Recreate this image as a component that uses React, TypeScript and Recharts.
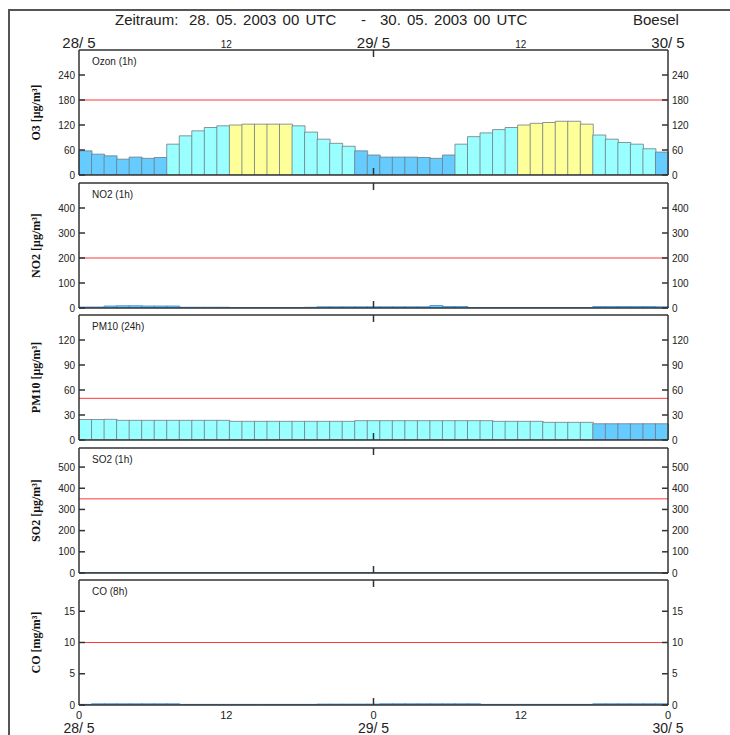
import React from 'react';
import { BarChart, Bar, XAxis, YAxis, ReferenceLine, Cell } from 'recharts';

// hour index of each bar (47 hourly bars between 28/5 00 UTC and 30/5 00 UTC)
const hours = [1,2,3,4,5,6,7,8,9,10,11,12,13,14,15,16,17,18,19,20,21,22,23,24,25,26,27,28,29,30,31,32,33,34,35,36,37,38,39,40,41,42,43,44,45,46,47];

const ozone = [58,50,46,38,43,40,42,74,94,106,114,118,120,122,122,122,122,118,103,86,76,69,58,48,43,43,43,42,40,48,74,92,101,109,114,120,124,126,129,129,122,96,86,78,74,63,55];
const no2 = [4,4,8,9,9,8,8,8,3,3,3,3,2,2,2,2,2,2,3,5,5,5,5,5,5,5,5,5,10,6,6,2,2,2,2,2,2,2,2,2,2,6,6,6,6,6,5];
const pm10 = [24.6,24.6,24.8,23.6,23.6,23.6,23.6,23.6,23.6,23.6,23.6,23.6,22.4,22.4,22.4,22.4,22.4,22.4,22.4,22.4,22.4,22.4,23.2,23.2,23.2,23.2,23.2,23.2,23.2,23.2,23.2,23.2,23.2,22.4,22.4,22.4,22.4,21.2,21.2,21.2,21.2,19.5,19.5,19.5,19.5,19.5,19.5];
const so2 = [2,2,2,2,2,2,2,2,2,2,2,2,2,2,2,2,2,2,2,2,2,2,2,2,2,2,2,2,2,2,2,2,2,2,2,2,2,2,2,2,2,2,2,2,2,2,2];
const co = [0.1,0.2,0.2,0.2,0.2,0.2,0.2,0.2,0.1,0.1,0.1,0.1,0.1,0.1,0.1,0.1,0.1,0.1,0.1,0.15,0.15,0.15,0.15,0.15,0.2,0.2,0.2,0.2,0.2,0.2,0.2,0.2,0.1,0.1,0.1,0.1,0.1,0.1,0.1,0.1,0.1,0.2,0.2,0.2,0.2,0.2,0.2];

const dayTicks = [0, 12, 24, 36, 48];
const hourTickLabels = ['0', '12', '0', '12', '0'];
const dateTickLabels = ['28/ 5', '', '29/ 5', '', '30/ 5'];
const topTickLabels = ['28/ 5', '12', '29/ 5', '12', '30/ 5'];

const o3Ticks = [0, 60, 120, 180, 240];
const no2Ticks = [0, 100, 200, 300, 400];
const pm10Ticks = [0, 30, 60, 90, 120];
const so2Ticks = [0, 100, 200, 300, 400, 500];
const coTicks = [0, 5, 10, 15];

const classColors = ['#66ccff', '#99ffff', '#ffff99'];

const panels = [
  { name: 'Ozon (1h)', yLabel: 'O3 [\u03BCg/m\u00B3]', values: ozone, max: 300, ticks: o3Ticks, limit: 180, thresholds: [60, 120], stroke: '#6f7b83' },
  { name: 'NO2 (1h)', yLabel: 'NO2 [\u03BCg/m\u00B3]', values: no2, max: 500, ticks: no2Ticks, limit: 200, thresholds: [] as number[], stroke: '#3a8ad6' },
  { name: 'PM10 (24h)', yLabel: 'PM10 [\u03BCg/m\u00B3]', values: pm10, max: 150, ticks: pm10Ticks, limit: 50, thresholds: [20, 50], stroke: '#6f7b83' },
  { name: 'SO2 (1h)', yLabel: 'SO2 [\u03BCg/m\u00B3]', values: so2, max: 590, ticks: so2Ticks, limit: 350, thresholds: [] as number[], stroke: '#3a8ad6' },
  { name: 'CO (8h)', yLabel: 'CO [mg/m\u00B3]', values: co, max: 20, ticks: coTicks, limit: 10, thresholds: [] as number[], stroke: '#3a8ad6' },
];

const panelTops = [50, 183, 315, 448, 580];
const PLOT_H = 125;
const W = 730;
const AXIS_W = 50;
const SANS = '"Liberation Sans", Arimo, Arial, sans-serif';
const SERIF = '"Liberation Serif", "DejaVu Serif", serif';
const LINE = '#333';

const LeftTick = (p: any) => {
  const { x, y, payload } = p;
  return (
    <g>
      <line x1={x} x2={x + 6} y1={y} y2={y} stroke={LINE} strokeWidth={1.5} />
      <text x={x - 4} y={y} textAnchor="end" dominantBaseline="central" fontSize={10} fontFamily={SANS} fill="#222">{payload.value}</text>
    </g>
  );
};

const RightTick = (p: any) => {
  const { x, y, payload } = p;
  return (
    <g>
      <line x1={x - 6} x2={x} y1={y} y2={y} stroke={LINE} strokeWidth={1.5} />
      <text x={x + 4} y={y} textAnchor="start" dominantBaseline="central" fontSize={10} fontFamily={SANS} fill="#222">{payload.value}</text>
    </g>
  );
};

const makeTopTick = (withLabels: boolean) => (p: any) => {
  const { x, y, payload, index } = p;
  const mid = payload.value === 24;
  const lbl = topTickLabels[index];
  const big = lbl.indexOf('/') >= 0;
  return (
    <g>
      {mid && <line x1={x} x2={x} y1={y} y2={y + 7} stroke={LINE} strokeWidth={1.5} />}
      {withLabels && (
        <text x={x} y={y - 2} textAnchor="middle" fontSize={big ? 15 : 10} fontFamily={SANS} fill="#222">{lbl}</text>
      )}
    </g>
  );
};

const makeBottomTick = (withLabels: boolean) => (p: any) => {
  const { x, y, payload, index } = p;
  const mid = payload.value === 24;
  return (
    <g>
      {mid && <line x1={x} x2={x} y1={y} y2={y - 7} stroke={LINE} strokeWidth={1.5} />}
      {withLabels && (
        <g>
          <text x={x} y={y + 10} textAnchor="middle" dominantBaseline="central" fontSize={11} fontFamily={SANS} fill="#222">{hourTickLabels[index]}</text>
          <text x={x} y={y + 28} textAnchor="middle" fontSize={14} fontFamily={SANS} fill="#222">{dateTickLabels[index]}</text>
        </g>
      )}
    </g>
  );
};

const YLabelContent = (p: any) => {
  const { viewBox, value } = p;
  if (!viewBox) return null;
  const cx = viewBox.x + 7;
  const cy = viewBox.y + viewBox.height / 2;
  return (
    <text x={cx} y={cy} transform={`rotate(-90 ${cx} ${cy})`} textAnchor="middle" dominantBaseline="central"
      fontSize={12} fontWeight="bold" fontFamily={SERIF} fill="#111">{value}</text>
  );
};

function colorFor(v: number, thresholds: number[]) {
  let c = 0;
  for (const t of thresholds) if (v >= t) c++;
  return classColors[Math.min(c, classColors.length - 1)];
}

function Panel({ idx }: { idx: number }) {
  const pnl = panels[idx];
  const first = idx === 0;
  const last = idx === panels.length - 1;
  const mt = first ? 50 : 6;
  const mb = last ? 30 : 6;
  const top = panelTops[idx] - mt;
  const height = mt + PLOT_H + mb;
  const data = pnl.values.map((v, i) => ({ h: hours[i], v }));
  return (
    <div style={{ position: 'absolute', left: 0, top, width: W, height }}>
      <BarChart width={W} height={height} data={data} barCategoryGap={0} barGap={0}
        margin={{ top: mt - 1, bottom: mb - 1, left: 79 - AXIS_W, right: W - 668 - AXIS_W }}>
        <XAxis xAxisId="cat" dataKey="h" type="category" hide />
        <XAxis xAxisId="top" orientation="top" type="number" dataKey="h" domain={[0, 48]} allowDataOverflow ticks={dayTicks}
          interval={0} height={1} tickSize={0} tickMargin={0} tickLine={false}
          axisLine={{ stroke: LINE, strokeWidth: 1.5 }} tick={makeTopTick(first)} />
        <XAxis xAxisId="bot" orientation="bottom" type="number" dataKey="h" domain={[0, 48]} allowDataOverflow ticks={dayTicks}
          interval={0} height={1} tickSize={0} tickMargin={0} tickLine={false}
          axisLine={{ stroke: LINE, strokeWidth: 1.5 }} tick={makeBottomTick(last)} />
        <YAxis yAxisId="l" orientation="left" type="number" width={AXIS_W} domain={[0, pnl.max]} allowDataOverflow
          ticks={pnl.ticks} interval={0} tickSize={0} tickMargin={0} tickLine={false}
          axisLine={{ stroke: LINE, strokeWidth: 1.5 }} tick={LeftTick}
          label={{ value: pnl.yLabel, content: YLabelContent }} />
        <YAxis yAxisId="r" orientation="right" type="number" width={AXIS_W} domain={[0, pnl.max]} allowDataOverflow
          ticks={pnl.ticks} interval={0} tickSize={0} tickMargin={0} tickLine={false}
          axisLine={{ stroke: LINE, strokeWidth: 1.5 }} tick={RightTick} />
        <ReferenceLine xAxisId="cat" yAxisId="l" y={pnl.limit} stroke="#ff3a3a" strokeWidth={1} />
        <Bar xAxisId="cat" yAxisId="l" dataKey="v" isAnimationActive={false} stroke={pnl.stroke} strokeWidth={0.8}>
          {data.map((d, i) => (
            <Cell key={i} fill={colorFor(d.v, pnl.thresholds)} />
          ))}
        </Bar>
      </BarChart>
      <div style={{ position: 'absolute', left: 92, top: mt + 6, fontFamily: SANS, fontSize: 10, color: '#222', whiteSpace: 'pre' }}>
        {pnl.name}
      </div>
    </div>
  );
}

const titleStyle: React.CSSProperties = { position: 'absolute', top: 11, fontFamily: SANS, fontSize: 15, color: '#222', whiteSpace: 'pre' };

export default function App() {
  return (
    <div style={{ position: 'absolute', left: 0, top: 0, width: W, height: 735, overflow: 'hidden', background: '#fff' }}>
      <div style={{ position: 'absolute', left: 8, top: 9, width: 740, height: 740, borderLeft: '2px solid #555', borderTop: '2px solid #555' }} />
      <div style={{ ...titleStyle, left: 115 }}>Zeitraum:</div>
      <div style={{ ...titleStyle, left: 189, wordSpacing: 2 }}>28. 05. 2003 00 UTC</div>
      <div style={{ ...titleStyle, left: 361 }}>-</div>
      <div style={{ ...titleStyle, left: 380, wordSpacing: 2 }}>30. 05. 2003 00 UTC</div>
      <div style={{ ...titleStyle, left: 633 }}>Boesel</div>
      {panels.map((_, i) => (
        <Panel key={i} idx={i} />
      ))}
    </div>
  );
}
